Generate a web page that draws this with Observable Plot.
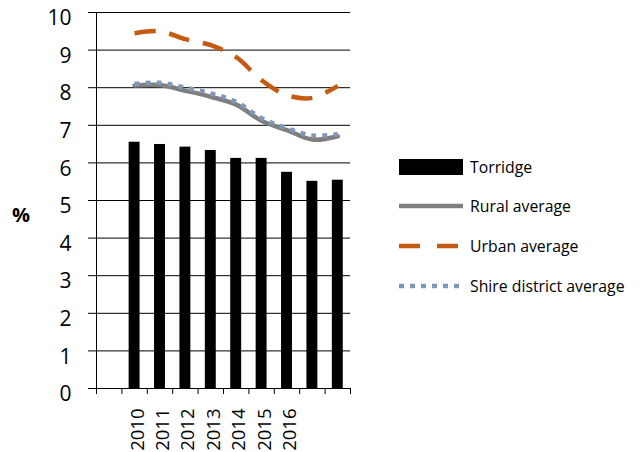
<!DOCTYPE html>
<html>
<head>
<meta charset="utf-8">
<script src="https://cdn.jsdelivr.net/npm/d3@7"></script>
<script src="https://cdn.jsdelivr.net/npm/@observablehq/plot@0.6"></script>
<style>
  html, body { margin: 0; padding: 0; background: #fff; }
  #wrap { position: relative; width: 643px; height: 452px; overflow: hidden; font-family: "Open Sans", sans-serif; }
  #legend { position: absolute; left: 399px; top: 147px; font-size: 15.8px; color: #000; }
  .item { display: flex; align-items: center; height: 39.6px; }
  .item svg { margin-right: 7px; }
  #ylab { position: absolute; left: 12px; top: 201px; font-size: 20px; font-weight: bold; }
</style>
</head>
<body>
<div id="wrap">
  <div id="chart"></div>
  <div id="ylab">%</div>
  <div id="legend"></div>
</div>
<script>
const xLabels = ["", "2010", "2011", "2012", "2013", "2014", "2015", "2016", "", ""];
const torridge = [null, 6.55, 6.49, 6.42, 6.33, 6.12, 6.12, 5.75, 5.51, 5.54];
const rural    = [null, 8.06, 8.07, 7.92, 7.76, 7.55, 7.12, 6.87, 6.62, 6.71];
const urban    = [null, 9.45, 9.50, 9.29, 9.13, 8.81, 8.20, 7.80, 7.73, 8.05];
const shire    = [null, 8.10, 8.13, 8.00, 7.85, 7.62, 7.19, 6.92, 6.73, 6.76];
const yTicks = [0, 1, 2, 3, 4, 5, 6, 7, 8, 9, 10];

const seriesNames = ["Torridge", "Rural average", "Urban average", "Shire district average"];
const colors = { torridge: "#000000", rural: "#7F7F7F", urban: "#C55A11", shire: "#7F97B8" };

const rows = xLabels.map((label, i) => ({
  i, label,
  torridge: torridge[i], rural: rural[i], urban: urban[i], shire: shire[i]
})).filter(d => d.torridge != null);

const n = xLabels.length;
const barHalf = 0.215;

const chart = Plot.plot({
  width: 643,
  height: 452,
  marginLeft: 96,
  marginRight: 293,
  marginTop: 12,
  marginBottom: 64,
  style: { fontFamily: "Open Sans, sans-serif", color: "#000", background: "transparent" },
  x: { type: "linear", domain: [0, n], axis: null },
  y: { domain: [0, 10], axis: null },
  marks: [
    Plot.gridY(yTicks, { stroke: "#000", strokeOpacity: 1, strokeWidth: 1 }),
    Plot.axisY(yTicks, { tickSize: 8, fill: "none", stroke: "#000", strokeOpacity: 1, label: null }),
    Plot.axisY(yTicks, { tickSize: 8, tickPadding: 17, stroke: "none", fontSize: 21, dy: 6, label: null }),
    Plot.ruleX([0], { y1: 0, y2: 10, stroke: "#000" }),
    Plot.axisX(d3.range(0, n + 1), { tickSize: 6, fill: "none", stroke: "#000", strokeOpacity: 1, label: null }),
    Plot.axisX(d3.range(0, n).map(i => i + 0.5), {
      tickSize: 0, tickPadding: 20, tickRotate: -90, stroke: "none", fontSize: 18.5, dx: 3,
      tickFormat: v => xLabels[Math.floor(v)], label: null
    }),
    Plot.rectY(rows, { x1: d => d.i + 0.5 - barHalf, x2: d => d.i + 0.5 + barHalf, y: "torridge", fill: colors.torridge }),
    Plot.ruleY([0], { stroke: "#000" }),
    Plot.line(rows, { x: d => d.i + 0.5, y: "rural", stroke: colors.rural, strokeWidth: 4.5, curve: "catmull-rom" }),
    Plot.line(rows, { x: d => d.i + 0.5, y: "shire", stroke: colors.shire, strokeWidth: 4.5, strokeDasharray: "5,6", curve: "catmull-rom", strokeLinecap: "butt" }),
    Plot.line(rows, { x: d => d.i + 0.5, y: "urban", stroke: colors.urban, strokeWidth: 4.5, strokeDasharray: "21,14", curve: "catmull-rom", strokeLinecap: "butt" })
  ]
});
document.getElementById("chart").appendChild(chart);

// legend
const legend = document.getElementById("legend");
const swatches = [
  `<rect x="0" y="2" width="64" height="16" fill="${colors.torridge}"/>`,
  `<line x1="0" x2="64" y1="10" y2="10" stroke="${colors.rural}" stroke-width="4.5"/>`,
  `<line x1="0" x2="64" y1="10" y2="10" stroke="${colors.urban}" stroke-width="4.5" stroke-dasharray="21,17"/>`,
  `<line x1="0" x2="64" y1="10" y2="10" stroke="${colors.shire}" stroke-width="4.5" stroke-dasharray="5,6"/>`
];
seriesNames.forEach((name, k) => {
  const div = document.createElement("div");
  div.className = "item";
  div.innerHTML = `<svg width="64" height="20">${swatches[k]}</svg><span>${name}</span>`;
  legend.appendChild(div);
});
</script>
</body>
</html>
